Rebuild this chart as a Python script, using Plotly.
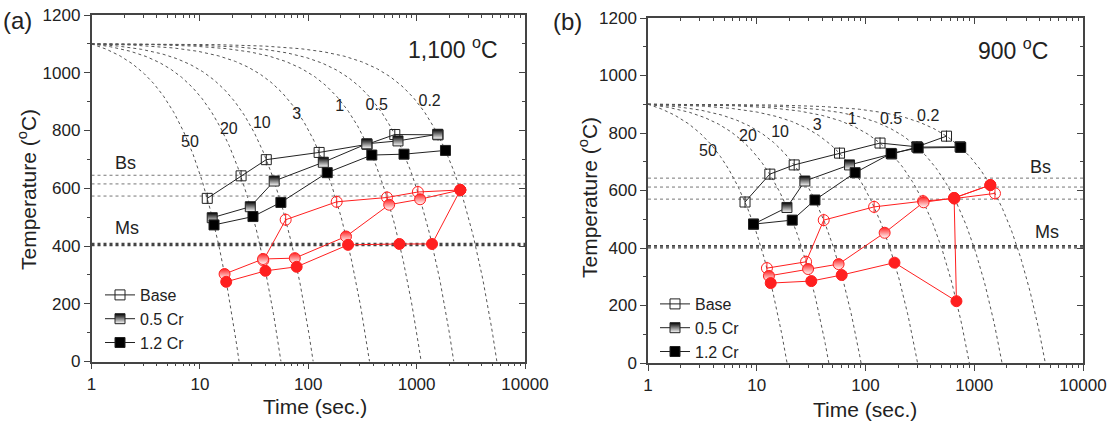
import numpy as np
import plotly.graph_objects as go

# ---------------- data ----------------
rates = [50, 20, 10, 3, 1, 0.5, 0.2]          # cooling rates (degC/s)
rate_labels = ["50", "20", "10", "3", "1", "0.5", "0.2"]
start_T_a = 1100
start_T_b = 900

# label positions of the cooling-rate numbers (data coords)
lab_a_t = [8.1, 18.5, 37.3, 78.3, 195, 428, 1318]
lab_a_T = [758, 803, 824, 852, 883, 886, 897]
lab_b_t = [3.56, 8.3, 16.4, 35.9, 75.3, 172, 377]
lab_b_T = [734, 786, 800, 824, 845, 845, 856]

bs_a = [645, 615, 573]
ms_a = [401, 405, 409]
bs_b = [643, 612, 570]
ms_b = [400, 404, 408]

# (a) 1,100 C  -- bainite start (black) points
a_base_t = [11.7, 24, 41, 126, 349, 629, 1576]
a_base_T = [565, 643, 699, 724, 752, 786, 785]
a_05_t = [13.0, 29.2, 48.5, 137.7, 347, 673, 1566]
a_05_T = [498, 536, 625, 690, 754, 764, 787]
a_12_t = [13.5, 30.9, 55.9, 149.7, 386, 765, 1846]
a_12_T = [473, 502, 551, 654, 715, 718, 731]
# (a) red points
a_base_r_t = [38.5, 61.9, 183, 533, 1027, 2531]
a_base_r_T = [350, 491, 553, 568, 587, 594]
a_05_r_t = [16.9, 38.3, 75.2, 223, 558, 1077, 2531]
a_05_r_T = [303, 355, 358, 433, 543, 562, 594]
a_12_r_t = [17.5, 40.3, 78.2, 233, 694, 1387, 2531]
a_12_r_T = [276, 314, 328, 404, 407, 407, 594]

# (b) 900 C
b_base_t = [7.8, 13.2, 22.1, 57.7, 136, 297, 556]
b_base_T = [560, 657, 689, 730, 765, 752, 789]
b_05_t = [9.34, 18.95, 27.7, 71.3, 174, 299, 741]
b_05_T = [483, 541, 633, 689, 727, 751, 752]
b_12_t = [9.34, 21.2, 34.3, 80.3, 172, 305, 751]
b_12_T = [483, 497, 567, 662, 729, 748, 750]
b_base_r_t = [12.4, 28.4, 41.3, 120, 338, 657, 1551]
b_base_r_T = [330, 352, 497, 543, 563, 572, 590]
b_05_r_t = [12.94, 29.65, 56.6, 150, 342, 653, 1406]
b_05_r_T = [303, 327, 344, 453, 559, 574, 619]
b_12_r_t = [13.44, 31.75, 60.4, 184.7, 686, 653, 1406]
b_12_r_T = [278, 285, 306, 349, 215, 574, 619]

x_tickvals = [1, 10, 100, 1000, 10000]
x_ticktext = ["1", "10", "100", "1000", "10000"]
y_tickvals = [0, 200, 400, 600, 800, 1000, 1200]

# ---------------- style ----------------
FONT = "Liberation Sans, Arial, sans-serif"
TXT = "#222"
AX = "#444"
BLK = "#222"
RED = "#ff1f1f"
W, H = 1112, 422

fig = go.Figure()

panels = [
    dict(xa="x", ya="y", T0=start_T_a, bs=bs_a, ms=ms_a, lab_t=lab_a_t, lab_T=lab_a_T,
         black=[(a_base_t, a_base_T), (a_05_t, a_05_T), (a_12_t, a_12_T)],
         red=[(a_base_r_t, a_base_r_T), (a_05_r_t, a_05_r_T), (a_12_r_t, a_12_r_T)],
         legend="legend"),
    dict(xa="x2", ya="y2", T0=start_T_b, bs=bs_b, ms=ms_b, lab_t=lab_b_t, lab_T=lab_b_T,
         black=[(b_base_t, b_base_T), (b_05_t, b_05_T), (b_12_t, b_12_T)],
         red=[(b_base_r_t, b_base_r_T), (b_05_r_t, b_05_r_T), (b_12_r_t, b_12_r_T)],
         legend="legend2"),
]

names = ["Base", "0.5 Cr", "1.2 Cr"]

for p in panels:
    xa, ya = p["xa"], p["ya"]
    # cooling curves
    for r in rates:
        t_end = 1 + p["T0"] / r
        t = np.logspace(0, np.log10(t_end), 300)
        T = p["T0"] - r * (t - 1)
        fig.add_trace(go.Scatter(x=t, y=np.clip(T, 0, None), mode="lines", xaxis=xa, yaxis=ya,
                                 line=dict(color="#555", width=1, dash="dot"),
                                 showlegend=False, hoverinfo="skip"))
    # Bs / Ms lines
    for v in p["bs"]:
        fig.add_trace(go.Scatter(x=[1, 10000], y=[v, v], mode="lines", xaxis=xa, yaxis=ya,
                                 line=dict(color="#777", width=1, dash="dot"),
                                 showlegend=False, hoverinfo="skip"))
    for v in p["ms"]:
        fig.add_trace(go.Scatter(x=[1, 10000], y=[v, v], mode="lines", xaxis=xa, yaxis=ya,
                                 line=dict(color="#444", width=1.2, dash="dot"),
                                 showlegend=False, hoverinfo="skip"))
    # curve labels
    fig.add_trace(go.Scatter(x=p["lab_t"], y=p["lab_T"], mode="text", text=rate_labels,
                             xaxis=xa, yaxis=ya, textfont=dict(size=16, color=TXT, family=FONT),
                             showlegend=False, hoverinfo="skip"))
    # red series
    for i, (tt, TT) in enumerate(p["red"]):
        if i == 0:
            mk = dict(symbol="circle-open", size=11, color=RED, line=dict(color=RED, width=1))
        elif i == 1:
            mk = dict(symbol="circle", size=11, color=RED, line=dict(color=RED, width=1),
                      gradient=dict(type="vertical", color="white"))
        else:
            mk = dict(symbol="circle", size=11, color=RED, line=dict(color=RED, width=1))
        fig.add_trace(go.Scatter(x=tt, y=TT, mode="lines+markers", xaxis=xa, yaxis=ya,
                                 line=dict(color=RED, width=1), marker=mk,
                                 showlegend=False, hoverinfo="skip"))
        if i == 0:
            fig.add_trace(go.Scatter(x=tt, y=TT, mode="markers", xaxis=xa, yaxis=ya,
                                     marker=dict(symbol="line-ns", size=9, line=dict(color=RED, width=1)),
                                     showlegend=False, hoverinfo="skip"))
    # black series
    for i, (tt, TT) in enumerate(p["black"]):
        if i == 0:
            mk = dict(symbol="square-open", size=10, color=BLK, line=dict(color=BLK, width=1))
        elif i == 1:
            mk = dict(symbol="square", size=10, color="black", line=dict(color=BLK, width=1),
                      gradient=dict(type="vertical", color="white"))
        else:
            mk = dict(symbol="square", size=10, color="black", line=dict(color=BLK, width=1))
        fig.add_trace(go.Scatter(x=tt, y=TT, mode="lines+markers", xaxis=xa, yaxis=ya, name=names[i],
                                 line=dict(color=BLK, width=1), marker=mk, legend=p["legend"],
                                 showlegend=True, hoverinfo="skip"))
        if i == 0:
            fig.add_trace(go.Scatter(x=tt, y=TT, mode="markers", xaxis=xa, yaxis=ya,
                                     marker=dict(symbol="line-ns", size=8, line=dict(color=BLK, width=1)),
                                     showlegend=False, hoverinfo="skip"))

# invisible anchors for mirrored tick axes
for xa, ya in [("x3", "y"), ("x", "y3"), ("x4", "y2"), ("x2", "y4")]:
    fig.add_trace(go.Scatter(x=[10], y=[600], xaxis=xa, yaxis=ya, mode="markers",
                             marker=dict(opacity=0), showlegend=False, hoverinfo="skip"))

minor_x = [m * 10 ** d for d in range(4) for m in range(2, 10)]
minor_y = [100, 300, 500, 700, 900, 1100]

def xaxis(domain, anchor):
    return dict(domain=domain, anchor=anchor, type="log", range=[0, 4], automargin=False,
                showline=True, linecolor=AX, linewidth=1.5, mirror=True,
                ticks="outside", ticklen=6, tickwidth=1.2, tickcolor=AX,
                tickvals=x_tickvals, ticktext=x_ticktext,
                tickfont=dict(size=17, color=TXT, family=FONT),
                showgrid=False, zeroline=False,
                minor=dict(ticks="outside", ticklen=3, tickwidth=1, tickcolor=AX,
                           tickvals=minor_x, showgrid=False))

def yaxis(domain, anchor):
    return dict(domain=domain, anchor=anchor, range=[0, 1200], automargin=False,
                showline=True, linecolor=AX, linewidth=1.5, mirror=True,
                ticks="outside", ticklen=6, tickwidth=1.2, tickcolor=AX,
                tickvals=y_tickvals, tickfont=dict(size=17, color=TXT, family=FONT),
                showgrid=False, zeroline=False,
                minor=dict(ticks="outside", ticklen=3, tickwidth=1, tickcolor=AX,
                           tickvals=minor_y, showgrid=False))

def xmirror(over, anchor):
    return dict(overlaying=over, anchor=anchor, side="top", type="log", range=[0, 4],
                automargin=False,
                showline=False, ticks="inside", ticklen=6, tickwidth=1.2, tickcolor=AX,
                tickvals=x_tickvals, showticklabels=False, showgrid=False, zeroline=False,
                minor=dict(ticks="inside", ticklen=3, tickwidth=1, tickcolor=AX,
                           tickvals=minor_x, showgrid=False))

def ymirror(over, anchor):
    return dict(overlaying=over, anchor=anchor, side="right", range=[0, 1200],
                automargin=False,
                showline=False, ticks="inside", ticklen=6, tickwidth=1.2, tickcolor=AX,
                tickvals=y_tickvals, showticklabels=False, showgrid=False, zeroline=False,
                minor=dict(ticks="inside", ticklen=3, tickwidth=1, tickcolor=AX,
                           tickvals=minor_y, showgrid=False))

dxa = [91.5 / W, 525 / W]
dya = [1 - 361.5 / H, 1 - 15 / H]
dxb = [648 / W, 1083 / W]
dyb = [1 - 363 / H, 1 - 18 / H]

def ann(text, px, py, size, xanchor="center", yanchor="middle", angle=0):
    return dict(text=text, x=px / W, y=1 - py / H, xref="paper", yref="paper",
                showarrow=False, xanchor=xanchor, yanchor=yanchor, textangle=angle,
                font=dict(size=size, color=TXT, family=FONT))

annotations = [
    ann("(a)", 17, 20, 24),
    ann("(b)", 567, 22, 24),
    ann("1,100 <sup>o</sup>C", 453, 48, 23),
    ann("900 <sup>o</sup>C", 1013, 49, 23),
    ann("Bs", 125, 163, 18),
    ann("Ms", 127, 228, 18),
    ann("Bs", 1040, 167, 18),
    ann("Ms", 1047, 232, 18),
    ann("Temperature (<sup>o</sup>C)", 27, 190, 21, angle=-90),
    ann("Temperature (<sup>o</sup>C)", 588, 198, 21, angle=-90),
    ann("Time (sec.)", 315, 406, 21),
    ann("Time (sec.)", 865, 409, 21),
]

leg_common = dict(xanchor="left", yanchor="top", bgcolor="rgba(0,0,0,0)",
                  font=dict(size=16, color=TXT, family=FONT), tracegroupgap=0,
                  itemclick=False, itemdoubleclick=False)

fig.update_layout(
    width=W, height=H, margin=dict(l=0, r=0, t=0, b=0, autoexpand=False),
    paper_bgcolor="white", plot_bgcolor="white",
    showlegend=True,
    xaxis=xaxis(dxa, "y"), yaxis=yaxis(dya, "x"),
    xaxis2=xaxis(dxb, "y2"), yaxis2=yaxis(dyb, "x2"),
    xaxis3=xmirror("x", "y"), yaxis3=ymirror("y", "x"),
    xaxis4=xmirror("x2", "y2"), yaxis4=ymirror("y2", "x2"),
    legend=dict(x=100 / W, y=1 - 278 / H, **leg_common),
    legend2=dict(x=655 / W, y=1 - 287 / H, **leg_common),
    annotations=annotations,
)

fig.write_html("out.html")
